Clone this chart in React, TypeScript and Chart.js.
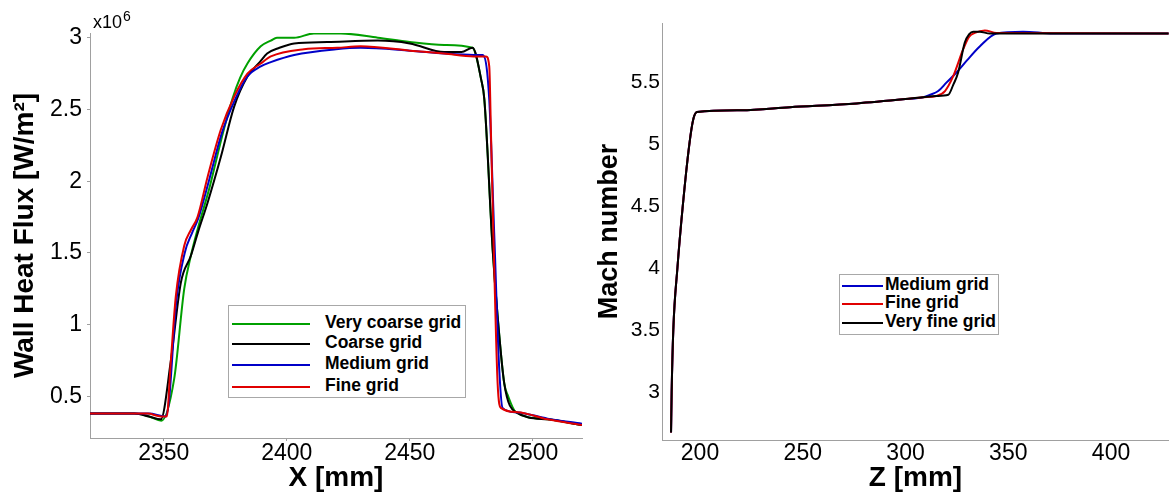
import React, { useEffect, useRef } from "react";
import { Chart, registerables } from "chart.js";

Chart.register(...registerables);

const FONT = '"Liberation Sans", Arial, Helvetica, sans-serif';
const AXIS_GRAY = "#a0a0a0";

// ---------- Left chart: Wall heat flux (x10^6 W/m^2) vs X [mm] ----------
const leftNames = ["Very coarse grid", "Coarse grid", "Medium grid", "Fine grid"];
const leftColors = ["#00a000", "#000000", "#0000c8", "#e00000"];
const leftXTicks = [2350, 2400, 2450, 2500];
const leftYTicks = [0.5, 1, 1.5, 2, 2.5, 3];

const veryCoarseX = [2320, 2338, 2344, 2349, 2354.2, 2358.3, 2361, 2364, 2368.5, 2373.5, 2378, 2381, 2384, 2389.4, 2393.5, 2396, 2403, 2411, 2422, 2437, 2450, 2464, 2475.5, 2479, 2480.3, 2483.7, 2485.7, 2488.4, 2490, 2493.1, 2506, 2520];
const veryCoarseY = [0.38, 0.38, 0.36, 0.33, 0.62, 1.25, 1.48, 1.68, 1.95, 2.3, 2.58, 2.72, 2.82, 2.94, 2.98, 3.0, 3.0, 3.03, 3.03, 3.0, 2.97, 2.95, 2.93, 2.71, 2.57, 1.52, 1.06, 0.59, 0.5, 0.39, 0.34, 0.3];

const coarseX = [2320, 2338, 2344, 2348.8, 2352.8, 2356.9, 2361, 2364, 2367.8, 2373.2, 2378.6, 2384, 2389, 2392, 2397, 2403, 2416.5, 2437, 2450, 2464, 2471, 2475.5, 2479, 2480.3, 2483.7, 2485.7, 2488.4, 2493.1, 2506, 2520];
const coarseY = [0.38, 0.38, 0.36, 0.34, 0.74, 1.29, 1.48, 1.65, 1.85, 2.17, 2.52, 2.73, 2.83, 2.89, 2.93, 2.96, 2.97, 2.98, 2.96, 2.9, 2.9, 2.93, 2.71, 2.57, 1.52, 1.06, 0.59, 0.39, 0.34, 0.3];

const mediumX = [2320, 2344, 2350.5, 2352, 2355, 2358.5, 2361.5, 2364, 2368.3, 2373.5, 2379, 2384, 2389.4, 2393.5, 2403, 2420, 2430, 2450, 2464, 2476, 2479.6, 2482.3, 2484.3, 2486.3, 2487.7, 2493, 2506, 2520];
const mediumY = [0.38, 0.38, 0.36, 0.45, 1.15, 1.5, 1.64, 1.74, 2.0, 2.33, 2.57, 2.73, 2.8, 2.83, 2.88, 2.92, 2.93, 2.91, 2.89, 2.88, 2.88, 2.57, 1.64, 0.71, 0.42, 0.39, 0.345, 0.31];

const fineX = [2320, 2343.4, 2348.8, 2351.2, 2352.8, 2354.9, 2358.3, 2361, 2363.7, 2367.8, 2373.2, 2378.6, 2384, 2389.4, 2393.5, 2407, 2420.5, 2430, 2450, 2464, 2476, 2481, 2482.3, 2483, 2484.3, 2485.7, 2487, 2493.8, 2506, 2520];
const fineY = [0.38, 0.38, 0.36, 0.36, 0.73, 1.2, 1.55, 1.66, 1.75, 2.03, 2.36, 2.59, 2.75, 2.82, 2.87, 2.92, 2.93, 2.94, 2.91, 2.89, 2.87, 2.87, 2.8, 2.33, 1.41, 0.59, 0.42, 0.39, 0.34, 0.3];

// ---------- Right chart: Mach number vs Z [mm] ----------
const rightNames = ["Medium grid", "Fine grid", "Very fine grid"];
const rightColors = ["#0000c8", "#e00000", "#000000"];
const rightXTicks = [200, 250, 300, 350, 400];
const rightYTicks = [3, 3.5, 4, 4.5, 5, 5.5];

const machMediumZ = [185.9, 186.2, 187, 189, 191.6, 194.8, 196.7, 198.5, 220, 243.8, 276.2, 300, 308.6, 312, 315.9, 320, 324.8, 330, 336.1, 344.2, 357.2, 371.8, 428];
const machMediumY = [2.67, 3.0, 3.5, 4.0, 4.5, 5.0, 5.2, 5.26, 5.275, 5.3, 5.33, 5.365, 5.38, 5.4, 5.43, 5.5, 5.58, 5.68, 5.79, 5.895, 5.91, 5.895, 5.895];

const machFineZ = [185.9, 186.2, 187, 189, 191.6, 194.8, 196.7, 198.5, 220, 243.8, 276.2, 300, 308.6, 315, 319.2, 323.2, 328.1, 331, 333.7, 338.6, 344.2, 428];
const machFineY = [2.67, 3.0, 3.5, 4.0, 4.5, 5.0, 5.2, 5.26, 5.275, 5.3, 5.33, 5.365, 5.38, 5.39, 5.43, 5.55, 5.77, 5.87, 5.9, 5.92, 5.9, 5.895];

const machVeryFineZ = [185.9, 186.2, 187, 189, 191.6, 194.8, 196.7, 198.5, 220, 243.8, 276.2, 300, 308.6, 315, 320.8, 323.2, 325.6, 328.8, 331, 332.9, 336.1, 341, 428];
const machVeryFineY = [2.67, 3.0, 3.5, 4.0, 4.5, 5.0, 5.2, 5.26, 5.275, 5.3, 5.33, 5.365, 5.38, 5.39, 5.4, 5.48, 5.58, 5.82, 5.89, 5.91, 5.91, 5.895, 5.895];

const pts = (xs: number[], ys: number[]) => xs.map((x, i) => ({ x, y: ys[i] }));

function axis(opts: any) {
  const { min, max, ticks, tickSize, tickLen, tickPad, size, sizeKey, title, titleSize, titlePad } = opts;
  return {
    type: "linear",
    min,
    max,
    afterBuildTicks: (s: any) => {
      s.ticks = ticks.map((v: number) => ({ value: v }));
    },
    afterFit: (s: any) => {
      s[sizeKey] = size;
    },
    grid: {
      display: true,
      drawOnChartArea: false,
      drawTicks: tickLen > 0,
      tickLength: tickLen,
      color: AXIS_GRAY,
      lineWidth: 1,
    },
    border: { display: true, color: AXIS_GRAY, width: 1 },
    ticks: {
      autoSkip: false,
      maxRotation: 0,
      minRotation: 0,
      padding: tickPad,
      color: "#000",
      font: { family: FONT, size: tickSize, lineHeight: 1 },
      callback: (v: any) => String(v),
    },
    title: {
      display: true,
      text: title,
      color: "#000",
      font: { family: FONT, size: titleSize, weight: "bold", lineHeight: 1.2 },
      padding: titlePad,
    },
  };
}

function Legend(props: any) {
  const { box, names, colors, rowYs, lineX0, lineX1, textX, fontSize } = props;
  return (
    <>
      <div
        style={{
          position: "absolute",
          left: box[0],
          top: box[1],
          width: box[2],
          height: box[3],
          border: "1px solid #a8a8a8",
          boxSizing: "border-box",
          background: "#fff",
        }}
      />
      {names.map((n: string, i: number) => (
        <React.Fragment key={n}>
          <div
            style={{
              position: "absolute",
              left: lineX0,
              top: rowYs[i] - 1,
              width: lineX1 - lineX0,
              height: 2,
              background: colors[i],
            }}
          />
          <div
            style={{
              position: "absolute",
              left: textX,
              top: rowYs[i] - 12,
              height: 20,
              lineHeight: "20px",
              fontFamily: FONT,
              fontWeight: "bold",
              fontSize,
              color: "#000",
              whiteSpace: "nowrap",
            }}
          >
            {n}
          </div>
        </React.Fragment>
      ))}
    </>
  );
}

const lineStyle = {
  borderWidth: 2,
  pointRadius: 0,
  fill: false,
  cubicInterpolationMode: "monotone",
};

export default function App() {
  const leftRef = useRef<HTMLCanvasElement | null>(null);
  const rightRef = useRef<HTMLCanvasElement | null>(null);

  useEffect(() => {
    const leftSeries = [
      pts(veryCoarseX, veryCoarseY),
      pts(coarseX, coarseY),
      pts(mediumX, mediumY),
      pts(fineX, fineY),
    ];
    const leftOrder = [3, 2, 1, 0];
    const left = new Chart(leftRef.current as HTMLCanvasElement, {
      type: "line",
      data: {
        datasets: leftSeries.map((d, i) => ({
          ...lineStyle,
          label: leftNames[i],
          data: d,
          borderColor: leftColors[i],
          backgroundColor: leftColors[i],
          order: leftOrder[i],
        })),
      },
      options: {
        responsive: false,
        animation: false,
        devicePixelRatio: 1,
        events: [],
        layout: { padding: { top: 33, right: 8, left: 0, bottom: 0 } },
        plugins: { legend: { display: false }, tooltip: { enabled: false } },
        scales: {
          x: axis({
            min: 2320, max: 2520, ticks: leftXTicks, tickSize: 23, tickLen: 3, tickPad: 1,
            size: 59, sizeKey: "height", title: "X [mm]", titleSize: 28, titlePad: { top: 0, bottom: 2 },
          }),
          y: axis({
            min: 0.21, max: 3.033, ticks: leftYTicks, tickSize: 23, tickLen: 3, tickPad: 5,
            size: 90, sizeKey: "width", title: "Wall Heat Flux [W/m\u00B2]", titleSize: 28, titlePad: { top: 8, bottom: 0 },
          }),
        },
      } as any,
    });

    const rightSeries = [
      pts(machMediumZ, machMediumY),
      pts(machFineZ, machFineY),
      pts(machVeryFineZ, machVeryFineY),
    ];
    const rightOrder = [2, 1, 0];
    const right = new Chart(rightRef.current as HTMLCanvasElement, {
      type: "line",
      data: {
        datasets: rightSeries.map((d, i) => ({
          ...lineStyle,
          label: rightNames[i],
          data: d,
          borderColor: rightColors[i],
          backgroundColor: rightColors[i],
          order: rightOrder[i],
        })),
      },
      options: {
        responsive: false,
        animation: false,
        devicePixelRatio: 1,
        events: [],
        layout: { padding: { top: 23, right: 0, left: 0, bottom: 0 } },
        plugins: { legend: { display: false }, tooltip: { enabled: false } },
        scales: {
          x: axis({
            min: 181.5, max: 428.2, ticks: rightXTicks, tickSize: 23, tickLen: 0, tickPad: 2,
            size: 57, sizeKey: "height", title: "Z [mm]", titleSize: 28, titlePad: { top: 0, bottom: 2 },
          }),
          y: axis({
            min: 2.61, max: 5.98, ticks: rightYTicks, tickSize: 21, tickLen: 0, tickPad: 2,
            size: 72, sizeKey: "width", title: "Mach number", titleSize: 27, titlePad: { top: 3, bottom: 0 },
          }),
        },
      } as any,
    });

    return () => {
      left.destroy();
      right.destroy();
    };
  }, []);

  return (
    <div
      style={{
        position: "fixed",
        left: 0,
        top: 0,
        width: 1169,
        height: 497,
        background: "#fff",
        overflow: "hidden",
        fontFamily: FONT,
      }}
    >
      <canvas
        ref={leftRef}
        width={590}
        height={497}
        style={{ position: "absolute", left: 0, top: 0, width: 590, height: 497, display: "block" }}
      />
      <canvas
        ref={rightRef}
        width={579}
        height={497}
        style={{ position: "absolute", left: 590, top: 0, width: 579, height: 497, display: "block" }}
      />
      <div style={{ position: "absolute", left: 93, top: 13, fontSize: 18, lineHeight: "18px", color: "#000" }}>x10</div>
      <div style={{ position: "absolute", left: 123, top: 9, fontSize: 14, lineHeight: "14px", color: "#000" }}>6</div>
      <Legend
        box={[228, 305, 238, 93]}
        names={leftNames}
        colors={leftColors}
        rowYs={[324, 344, 365, 387]}
        lineX0={232}
        lineX1={310}
        textX={325}
        fontSize={17.5}
      />
      <Legend
        box={[839, 274, 160, 61]}
        names={rightNames}
        colors={rightColors}
        rowYs={[286, 304, 323]}
        lineX0={842}
        lineX1={883}
        textX={885}
        fontSize={17.5}
      />
    </div>
  );
}
